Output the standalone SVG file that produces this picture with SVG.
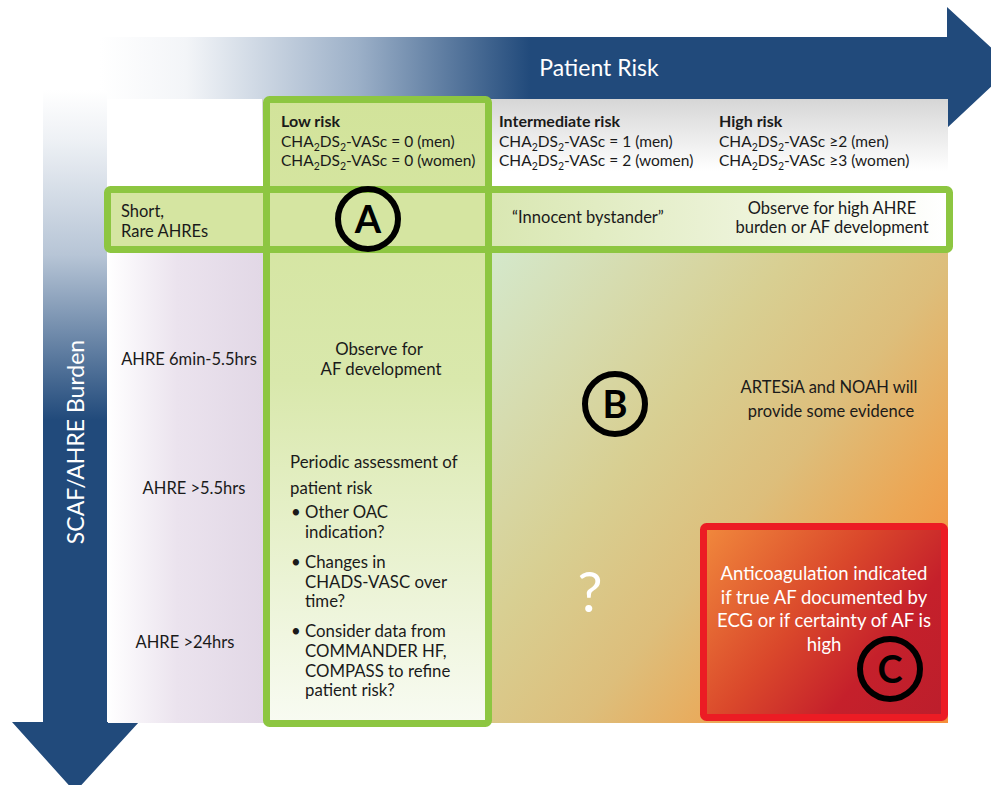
<svg xmlns="http://www.w3.org/2000/svg" width="991" height="785" viewBox="0 0 991 785">
<defs>
<style>
text{font-family:Lato,"Open Sans","Liberation Sans",sans-serif;fill:#1a1a1a;}
.h{font-size:15.5px;}
.hb{font-size:16px;font-weight:bold;}
.b{font-size:16.5px;}
.c{font-size:16.8px;}
.cb{font-size:18.5px;fill:#ffffff;text-anchor:middle;}
.w{fill:#ffffff;}
.ax{font-size:23px;fill:#ffffff;}
.gbox{stroke:#8dc641;stroke-width:7;}
.circ{fill:none;stroke:#000;stroke-width:6;}
.let{font-size:38px;font-weight:bold;fill:#000;text-anchor:middle;}
.mid{text-anchor:middle;}
</style>
<linearGradient id="hArrow" gradientUnits="userSpaceOnUse" x1="100" y1="0" x2="530" y2="0">
<stop offset="0" stop-color="#ffffff"/>
<stop offset="0.2" stop-color="#f3f5f8"/>
<stop offset="0.6" stop-color="#9cb0c8"/>
<stop offset="1" stop-color="#214a7b"/>
</linearGradient>
<linearGradient id="vArrow" gradientUnits="userSpaceOnUse" x1="0" y1="90" x2="0" y2="420">
<stop offset="0" stop-color="#ffffff"/>
<stop offset="0.15" stop-color="#eef1f5"/>
<stop offset="0.5" stop-color="#b7c5d6"/>
<stop offset="1" stop-color="#214a7b"/>
</linearGradient>
<linearGradient id="hdrShade" x1="0" y1="0" x2="0" y2="1">
<stop offset="0" stop-color="#d6d6d6"/>
<stop offset="0.8" stop-color="#ffffff"/>
</linearGradient>
<linearGradient id="lav" gradientUnits="userSpaceOnUse" x1="108" y1="0" x2="262" y2="0">
<stop offset="0" stop-color="#ffffff"/>
<stop offset="0.45" stop-color="#ebe3ee"/>
<stop offset="1" stop-color="#e2d8e6"/>
</linearGradient>
<linearGradient id="col" x1="0" y1="0" x2="0" y2="1">
<stop offset="0" stop-color="#d2e39a"/>
<stop offset="0.45" stop-color="#d9e8ac"/>
<stop offset="1" stop-color="#f8fbf2"/>
</linearGradient>
<linearGradient id="rowA" gradientUnits="userSpaceOnUse" x1="492" y1="0" x2="945" y2="0">
<stop offset="0" stop-color="#d9e7b2"/>
<stop offset="0.6" stop-color="#eef4dc"/>
<stop offset="1" stop-color="#ffffff"/>
</linearGradient>
<linearGradient id="main" gradientUnits="userSpaceOnUse" x1="492" y1="253" x2="948" y2="620">
<stop offset="0" stop-color="#d4e8cb"/>
<stop offset="0.4" stop-color="#d8cf92"/>
<stop offset="0.62" stop-color="#ddbe7b"/>
<stop offset="0.82" stop-color="#eca654"/>
<stop offset="1" stop-color="#f58f3b"/>
</linearGradient>
<linearGradient id="cfill" gradientUnits="userSpaceOnUse" x1="707" y1="530" x2="944" y2="717">
<stop offset="0" stop-color="#f0873c"/>
<stop offset="0.42" stop-color="#da482b"/>
<stop offset="0.7" stop-color="#c5202b"/>
<stop offset="1" stop-color="#bc1e2c"/>
</linearGradient>
</defs>

<rect x="0" y="0" width="991" height="785" fill="#ffffff"/>

<g id="axes">
<polygon points="100,37 947,37 947,7 1012,67 947,128 947,99 100,99" fill="url(#hArrow)"/>
<polygon points="43,90 107,90 107,722 139,722 75,792 12,722 43,722" fill="url(#vArrow)"/>
<text class="ax mid" x="599" y="76">Patient Risk</text>
<text class="ax mid" transform="translate(84,442) rotate(-90)" x="0" y="0">SCAF/AHRE Burden</text>
</g>

<g id="background">
<rect x="108" y="99" width="840" height="90" fill="#ffffff"/>
<rect x="262" y="99" width="686" height="90" fill="url(#hdrShade)"/>
<rect x="108" y="249" width="158" height="474" fill="url(#lav)"/>
<rect x="488" y="249" width="460" height="474" fill="url(#main)"/>
</g>

<g id="header-low">
<rect class="gbox" x="266.5" y="99.5" width="222" height="624" rx="3" fill="url(#col)"/>
<text class="hb" x="281" y="127">Low risk</text>
<text class="h" x="281" y="147">CHA<tspan dy="4" font-size="10.5">2</tspan><tspan dy="-4">DS</tspan><tspan dy="4" font-size="10.5">2</tspan><tspan dy="-4">-VASc = 0 (men)</tspan></text>
<text class="h" x="281" y="166">CHA<tspan dy="4" font-size="10.5">2</tspan><tspan dy="-4">DS</tspan><tspan dy="4" font-size="10.5">2</tspan><tspan dy="-4">-VASc = 0 (women)</tspan></text>
</g>

<g id="header-intermediate">
<text class="hb" x="499" y="127">Intermediate risk</text>
<text class="h" x="499" y="147">CHA<tspan dy="4" font-size="10.5">2</tspan><tspan dy="-4">DS</tspan><tspan dy="4" font-size="10.5">2</tspan><tspan dy="-4">-VASc = 1 (men)</tspan></text>
<text class="h" x="499" y="166">CHA<tspan dy="4" font-size="10.5">2</tspan><tspan dy="-4">DS</tspan><tspan dy="4" font-size="10.5">2</tspan><tspan dy="-4">-VASc = 2 (women)</tspan></text>
</g>

<g id="header-high">
<text class="hb" x="719" y="127">High risk</text>
<text class="h" x="719" y="147">CHA<tspan dy="4" font-size="10.5">2</tspan><tspan dy="-4">DS</tspan><tspan dy="4" font-size="10.5">2</tspan><tspan dy="-4">-VASc ≥2 (men)</tspan></text>
<text class="h" x="719" y="166">CHA<tspan dy="4" font-size="10.5">2</tspan><tspan dy="-4">DS</tspan><tspan dy="4" font-size="10.5">2</tspan><tspan dy="-4">-VASc ≥3 (women)</tspan></text>
</g>

<g id="row-a">
<rect class="gbox" x="107.5" y="189.5" width="842" height="60" rx="3" fill="#d5e5a1"/>
<rect x="492" y="193" width="454" height="53" fill="url(#rowA)"/>
<line x1="266.5" y1="189.5" x2="266.5" y2="249.5" class="gbox"/>
<line x1="488.5" y1="189.5" x2="488.5" y2="249.5" class="gbox"/>
<text class="b" x="121" y="217">Short,</text>
<text class="b" x="121" y="237">Rare AHREs</text>
<text class="b mid" x="588" y="223" font-size="17.3">“Innocent bystander”</text>
<text class="b mid" x="832" y="214">Observe for high AHRE</text>
<text class="b mid" x="832" y="233" font-size="17.2">burden or AF development</text>
</g>

<g id="circle-a">
<circle class="circ" cx="368" cy="219" r="30"/>
<text class="let" x="368" y="233">A</text>
</g>

<g id="row-labels">
<text class="b mid" x="189" y="365">AHRE 6min-5.5hrs</text>
<text class="b mid" x="194" y="494">AHRE &gt;5.5hrs</text>
<text class="b mid" x="185" y="648">AHRE &gt;24hrs</text>
</g>

<g id="low-risk-actions">
<text class="c mid" x="379" y="355">Observe for</text>
<text class="c mid" x="381" y="375">AF development</text>
<text class="c" x="290" y="468">Periodic assessment of</text>
<text class="c" x="290" y="494">patient risk</text>
<text class="c" x="291" y="518">•</text>
<text class="c" x="305" y="518">Other OAC</text>
<text class="c" x="305" y="538">indication?</text>
<text class="c" x="291" y="568">•</text>
<text class="c" x="305" y="568">Changes in</text>
<text class="c" x="305" y="588">CHADS-VASC over</text>
<text class="c" x="305" y="607">time?</text>
<text class="c" x="291" y="637">•</text>
<text class="c" x="305" y="637">Consider data from</text>
<text class="c" x="305" y="657">COMMANDER HF,</text>
<text class="c" x="305" y="677">COMPASS to refine</text>
<text class="c" x="305" y="696">patient risk?</text>
</g>

<g id="region-b">
<circle class="circ" cx="615" cy="404" r="30"/>
<text class="let" x="615" y="418">B</text>
<text class="b mid" x="829" y="393">ARTESiA and NOAH will</text>
<text class="b mid" x="831" y="417">provide some evidence</text>
<text class="w mid" x="590" y="612" font-size="56">?</text>
</g>

<g id="box-c">
<rect x="703.5" y="526.5" width="241" height="191" rx="3" fill="url(#cfill)" stroke="#ec1c24" stroke-width="7"/>
<text class="cb" x="824" y="580">Anticoagulation indicated</text>
<text class="cb" x="824" y="604">if true AF documented by</text>
<text class="cb" x="824" y="627">ECG or if certainty of AF is</text>
<text class="cb" x="824" y="651">high</text>
<circle class="circ" cx="890" cy="669" r="30"/>
<text class="let" x="890" y="683">C</text>
</g>

<g id="connectors"></g>
</svg>
